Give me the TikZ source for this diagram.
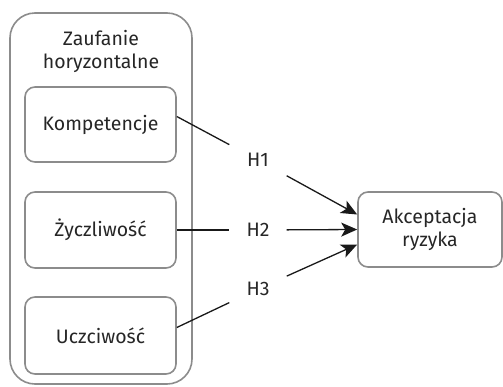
\documentclass[tikz,border=0pt]{standalone}
\usepackage{fontspec}
\setmainfont{Fira Sans}
\usetikzlibrary{arrows.meta,calc}
\begin{document}
\begin{tikzpicture}[x=1pt,y=-1pt,
  txt/.style={font=\fontsize{19.5}{23}\selectfont, text=black!85},
  box/.style={txt, draw=black!45, line width=1.6pt, rounded corners=10pt, align=center, inner sep=0pt},
  hyp/.style={txt, minimum width=57pt, minimum height=36pt, inner sep=0pt},
  link/.style={line width=1.3pt, black!90},
  arr/.style={link, -{Stealth[length=16pt, width=14pt, inset=4pt]}}]
\useasboundingbox (0,0) rectangle (503,386);
\node[box, rounded corners=25pt, minimum width=182pt, minimum height=371pt] (outer) at (101,198.5) {};
\node[txt, align=center] (title) at (101,51) {Zaufanie\\horyzontalne};
\node[box, minimum width=151pt, minimum height=75pt] (komp) at (100.5,124.5) {Kompetencje};
\node[box, minimum width=151pt, minimum height=76pt] (zycz) at (100.5,230) {Życzliwość};
\node[box, minimum width=151pt, minimum height=77pt] (ucz) at (100.5,335.5) {Uczciwość};
\node[box, minimum width=144pt, minimum height=75pt] (akc) at (430,229.5) {Akceptacja\\ryzyka};
\node[hyp] (h1) at (258,160) {H1};
\node[hyp] (h2) at (258,230) {H2};
\node[hyp] (h3) at (258,289) {H3};
\draw[link] ($(komp.east)+(0,-8)$) -- (h1);
\draw[link] (zycz.east) -- (h2);
\draw[link] ($(ucz.east)+(0,-8)$) -- (h3);
\draw[arr] (h1) -- ($(akc.west)+(0,-15)$);
\draw[arr] (h2) -- (akc.west);
\draw[arr] (h3) -- ($(akc.west)+(0,15)$);
\end{tikzpicture}
\end{document}
